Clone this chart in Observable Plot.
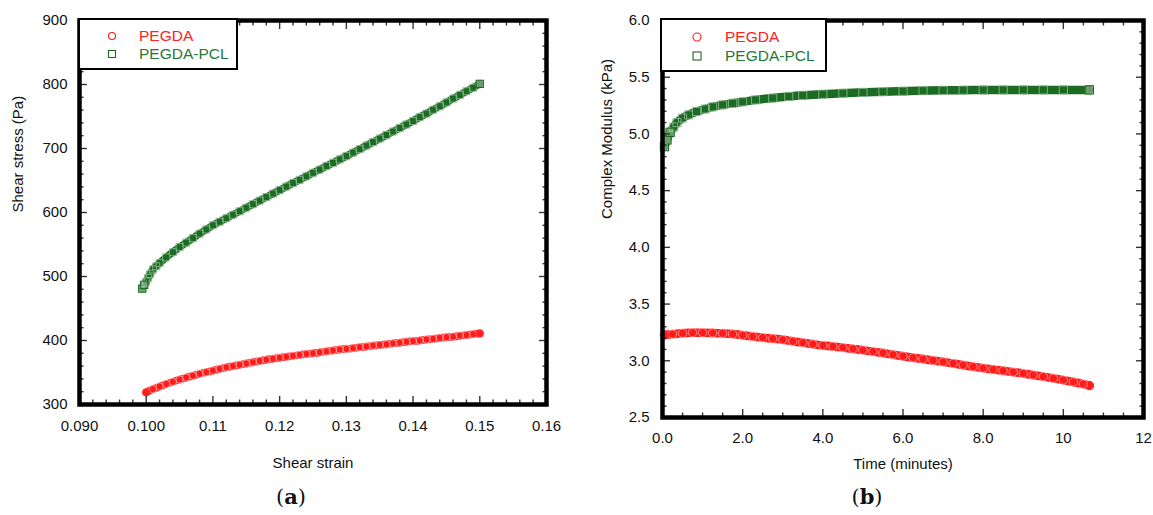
<!DOCTYPE html>
<html><head><meta charset="utf-8">
<script src="https://cdn.jsdelivr.net/npm/d3@7"></script>
<script src="https://cdn.jsdelivr.net/npm/@observablehq/plot@0.6"></script>
<style>
html,body{margin:0;padding:0;background:#fff;}
body{width:1153px;height:515px;position:relative;overflow:hidden;font-family:"Liberation Sans",Arial,sans-serif;}
.panel{position:absolute;top:0;}
.panel svg{overflow:visible;}
.legend{position:absolute;background:#fff;border:2.5px solid #000;box-sizing:border-box;z-index:2;}
.legend .row{position:absolute;left:0;height:18px;line-height:18px;font-size:15.5px;white-space:nowrap;}
.legend svg{position:absolute;}
.cap{position:absolute;top:484px;font-family:"DejaVu Serif","Liberation Serif",serif;font-size:21px;color:#111;z-index:2;transform:translateX(-50%);}
.cap b{font-weight:bold;}
</style></head><body>
<div id="pa" class="panel" style="left:0"></div>
<div id="pb" class="panel" style="left:580px"></div>
<div id="la" class="legend" style="left:78px;top:18px;width:160px;height:52px"></div>
<div id="lb" class="legend" style="left:660px;top:18px;width:167px;height:54px"></div>
<div class="cap" style="left:291px">(<b>a</b>)</div>
<div class="cap" style="left:867px">(<b>b</b>)</div>
<script>
// ---------- data: panel (a) ----------
const seriesNames = ["PEGDA", "PEGDA-PCL"];
const strainPEGDA = [0.100,0.101,0.102,0.103,0.104,0.105,0.106,0.107,0.108,0.109,0.110,0.111,0.112,0.113,0.114,0.115,0.116,0.117,0.118,0.119,0.120,0.121,0.122,0.123,0.124,0.125,0.126,0.127,0.128,0.129,0.130,0.131,0.132,0.133,0.134,0.135,0.136,0.137,0.138,0.139,0.140,0.141,0.142,0.143,0.144,0.145,0.146,0.147,0.148,0.149,0.150];
const stressPEGDA = [319,324,328,332,335.5,339,342,345,348,350.5,353,355.5,358,360,362,364,366,368,370,371.5,373,374.5,376,377.5,379,380,381.5,383,384.5,386,387,388,389.5,390.5,392,393,394,395.5,396.5,398,399,400,401.5,402.5,404,405,406,407.5,408.5,410,411];
const strainPCL = [0.0994,0.0997,0.1000,0.1003,0.1006,0.1010,0.1015,0.102,0.103,0.104,0.105,0.106,0.107,0.108,0.109,0.110,0.111,0.112,0.113,0.114,0.115,0.116,0.117,0.118,0.119,0.120,0.121,0.122,0.123,0.124,0.125,0.126,0.127,0.128,0.129,0.130,0.131,0.132,0.133,0.134,0.135,0.136,0.137,0.138,0.139,0.140,0.141,0.142,0.143,0.144,0.145,0.146,0.147,0.148,0.149,0.150];
const stressPCL = [481,487,492,498,504,511,516,521,530,538,546,553,560,567,573.5,580,585.5,591,596.5,602,607.5,613,618.5,624,629.5,635,640.5,646,651,656.5,662,667,672.5,677.5,683,688,693.5,699,704.5,710,715.5,721,726.5,732,737.5,743,749,754.5,760.5,766,772,778,783.5,789.5,795,801];
const xTicksA = [0.09,0.10,0.11,0.12,0.13,0.14,0.15,0.16];
const xTickLabelsA = ["0.090","0.100","0.11","0.12","0.13","0.14","0.15","0.16"];
const xMinorA = [0.092,0.094,0.096,0.098,0.102,0.104,0.106,0.108,0.112,0.114,0.116,0.118,0.122,0.124,0.126,0.128,0.132,0.134,0.136,0.138,0.142,0.144,0.146,0.148,0.152,0.154,0.156,0.158];
const yTicksA = [300,400,500,600,700,800,900];
const yTickLabelsA = ["300","400","500","600","700","800","900"];
const yMinorA = [320,340,360,380,420,440,460,480,520,540,560,580,620,640,660,680,720,740,760,780,820,840,860,880];
const xTitleA = "Shear strain";
const yTitleA = "Shear stress (Pa)";

// ---------- data: panel (b) ----------
const timePEGDA = [0.05,0.25,0.5,0.75,1.0,1.25,1.5,1.75,2.0,2.25,2.5,2.75,3.0,3.25,3.5,3.75,4.0,4.25,4.5,4.75,5.0,5.25,5.5,5.75,6.0,6.25,6.5,6.75,7.0,7.25,7.5,7.75,8.0,8.25,8.5,8.75,9.0,9.25,9.5,9.75,10.0,10.25,10.5,10.65];
const modulusPEGDA = [3.228,3.235,3.243,3.248,3.248,3.246,3.242,3.236,3.225,3.214,3.204,3.195,3.185,3.172,3.160,3.147,3.135,3.126,3.116,3.105,3.094,3.081,3.068,3.054,3.040,3.027,3.015,3.003,2.990,2.976,2.962,2.948,2.935,2.923,2.912,2.900,2.888,2.874,2.860,2.845,2.830,2.813,2.795,2.782];
const timePCL = [0.05,0.11,0.19,0.28,0.36,0.5,0.65,0.85,1.07,1.25,1.5,1.75,2.0,2.32,2.75,3.15,3.5,4.0,4.5,5.0,5.5,6.0,6.5,7.0,7.5,8.0,8.5,9.0,9.5,10.0,10.65];
const modulusPCL = [4.888,4.947,5.014,5.06,5.10,5.14,5.168,5.198,5.22,5.238,5.256,5.270,5.283,5.30,5.316,5.33,5.340,5.350,5.359,5.366,5.372,5.377,5.381,5.384,5.386,5.387,5.388,5.388,5.388,5.388,5.388];
const xTicksB = [0,2,4,6,8,10,12];
const xTickLabelsB = ["0.0","2.0","4.0","6.0","8.0","10","12"];
const xMinorB = [0.5,1,1.5,2.5,3,3.5,4.5,5,5.5,6.5,7,7.5,8.5,9,9.5,10.5,11,11.5];
const yTicksB = [2.5,3.0,3.5,4.0,4.5,5.0,5.5,6.0];
const yTickLabelsB = ["2.5","3.0","3.5","4.0","4.5","5.0","5.5","6.0"];
const yMinorB = [2.6,2.7,2.8,2.9,3.1,3.2,3.3,3.4,3.6,3.7,3.8,3.9,4.1,4.2,4.3,4.4,4.6,4.7,4.8,4.9,5.1,5.2,5.3,5.4,5.6,5.7,5.8,5.9];
const xTitleB = "Time (minutes)";
const yTitleB = "Complex Modulus (kPa)";

// ---------- styles ----------
const RED = "#ff1a1a";
const RED_RING = "#ff9c9c";
const GREEN = "#1c6b22";
const GREEN_RING = "#86b48c";
const LEGEND_RED = "#ff2020";
const LEGEND_GREEN = "#1f7a35";
const TICK = "#333";
const FONT = "'Liberation Sans', Arial, sans-serif";

function rows(xs, ys) { return xs.map((x, i) => ({x, y: ys[i]})); }

function tickAxes(xMajor, xMinor, yMajor, yMinor, xLab, yLab, xPad, yPad) {
  const xm = new Map(xMajor.map((v, i) => [v, xLab[i]]));
  const ym = new Map(yMajor.map((v, i) => [v, yLab[i]]));
  const tk = {fill: "none", stroke: TICK, strokeWidth: 1.4, label: null};
  return [
    Plot.axisX({anchor: "bottom", ticks: xMinor, tickSize: -4.5, ...tk}),
    Plot.axisX({anchor: "top", ticks: xMinor, tickSize: -4.5, ...tk}),
    Plot.axisX({anchor: "bottom", ticks: xMajor, tickSize: -8, ...tk}),
    Plot.axisX({anchor: "top", ticks: xMajor, tickSize: -8, ...tk}),
    Plot.axisY({anchor: "left", ticks: yMinor, tickSize: -4.5, ...tk}),
    Plot.axisY({anchor: "right", ticks: yMinor, tickSize: -4.5, ...tk}),
    Plot.axisY({anchor: "left", ticks: yMajor, tickSize: -8, ...tk}),
    Plot.axisY({anchor: "right", ticks: yMajor, tickSize: -8, ...tk}),
    Plot.axisX({anchor: "bottom", ticks: xMajor, tickSize: 0, tickPadding: xPad, tickFormat: d => xm.get(d), label: null, fill: "#111", fontSize: 15}),
    Plot.axisY({anchor: "left", ticks: yMajor, tickSize: 0, tickPadding: yPad, tickFormat: d => ym.get(d), label: null, fill: "#111", fontSize: 15})
  ];
}

function panel(opts) {
  const r1 = rows(opts.x1, opts.y1), r2 = rows(opts.x2, opts.y2);
  return Plot.plot({
    width: opts.width, height: 515,
    marginLeft: opts.ml, marginRight: opts.mr, marginTop: opts.mt, marginBottom: opts.mb,
    style: {fontFamily: FONT, fontSize: "15px", background: "transparent", overflow: "visible", color: "#111"},
    x: {domain: opts.xDomain},
    y: {domain: opts.yDomain},
    marks: [
      Plot.line(r1, {x: "x", y: "y", stroke: RED, strokeWidth: opts.band, curve: "monotone-x", strokeLinecap: "round"}),
      Plot.dot(r1, {x: "x", y: "y", symbol: "circle", r: opts.rc, stroke: RED_RING, fill: "none", strokeWidth: 0.9}),
      Plot.dot(r1.slice(0, 1).concat(r1.slice(-1)), {x: "x", y: "y", symbol: "circle", r: opts.rc, stroke: RED, fill: "none", strokeWidth: 1}),
      Plot.line(r2, {x: "x", y: "y", stroke: GREEN, strokeWidth: opts.band, curve: "monotone-x"}),
      Plot.dot(r2, {x: "x", y: "y", symbol: "square", r: opts.rs, stroke: GREEN_RING, fill: "none", strokeWidth: 0.9}),
      Plot.dot(r2.slice(0, opts.lead).concat(r2.slice(-1)), {x: "x", y: "y", symbol: "square", r: opts.rs, stroke: GREEN, fill: "white", fillOpacity: 0.35, strokeWidth: 1.1}),
      ...tickAxes(opts.xMajor, opts.xMinor, opts.yMajor, opts.yMinor, opts.xLab, opts.yLab, opts.xPad, opts.yPad),
      Plot.frame({stroke: "#000", strokeWidth: 4.5}),
      Plot.text([opts.xTitle], {frameAnchor: "bottom", dy: opts.xTitleDy, text: d => d, fontSize: 15, fill: "#111", lineAnchor: "middle"}),
      Plot.text([opts.yTitle], {frameAnchor: "left", dx: opts.yTitleDx, rotate: -90, text: d => d, fontSize: 15, fill: "#111", lineAnchor: "middle"})
    ]
  });
}

document.getElementById("pa").append(panel({
  width: 580, ml: 79, mr: 34, mt: 20, mb: 111,
  xDomain: [0.09, 0.16], yDomain: [300, 900],
  x1: strainPEGDA, y1: stressPEGDA, x2: strainPCL, y2: stressPCL,
  band: 7.5, rc: 3.7, rs: 4.0, lead: 2,
  xMajor: xTicksA, xMinor: xMinorA, yMajor: yTicksA, yMinor: yMinorA,
  xLab: xTickLabelsA, yLab: yTickLabelsA, xPad: 16, yPad: 12,
  xTitle: xTitleA, yTitle: yTitleA, xTitleDy: 59, yTitleDx: -61
}));

document.getElementById("pb").append(panel({
  width: 573, ml: 82, mr: 10, mt: 20, mb: 98,
  xDomain: [0, 12], yDomain: [2.5, 6.0],
  x1: timePEGDA, y1: modulusPEGDA, x2: timePCL, y2: modulusPCL,
  band: 8.5, rc: 4.2, rs: 4.6, lead: 3,
  xMajor: xTicksB, xMinor: xMinorB, yMajor: yTicksB, yMinor: yMinorB,
  xLab: xTickLabelsB, yLab: yTickLabelsB, xPad: 15, yPad: 13,
  xTitle: xTitleB, yTitle: yTitleB, xTitleDy: 47, yTitleDx: -55
}));

// ---------- legends ----------
function legend(id, items, symX, textX, ys, size) {
  const el = document.getElementById(id);
  items.forEach((it, i) => {
    const s = document.createElementNS("http://www.w3.org/2000/svg", "svg");
    s.setAttribute("width", 14); s.setAttribute("height", 14);
    s.style.left = (symX - 7) + "px"; s.style.top = (ys[i] - 7) + "px";
    const shape = it.symbol === "circle"
      ? `<circle cx="7" cy="7" r="${size/2}" fill="none" stroke="${it.stroke}" stroke-width="1.1"/>`
      : `<rect x="${7-size/2}" y="${7-size/2}" width="${size}" height="${size}" fill="none" stroke="${it.stroke}" stroke-width="1.1"/>`;
    s.innerHTML = shape;
    el.append(s);
    const t = document.createElement("div");
    t.className = "row";
    t.style.left = textX + "px"; t.style.top = (ys[i] - 9) + "px";
    t.style.color = it.color;
    t.textContent = it.name;
    el.append(t);
  });
}
const legendItems = [
  {name: seriesNames[0], symbol: "circle", stroke: RED, color: LEGEND_RED},
  {name: seriesNames[1], symbol: "square", stroke: GREEN, color: LEGEND_GREEN}
];
legend("la", legendItems, 32, 59, [16, 34], 7);
legend("lb", legendItems, 35, 63, [17, 36], 8);
</script>
</body></html>
